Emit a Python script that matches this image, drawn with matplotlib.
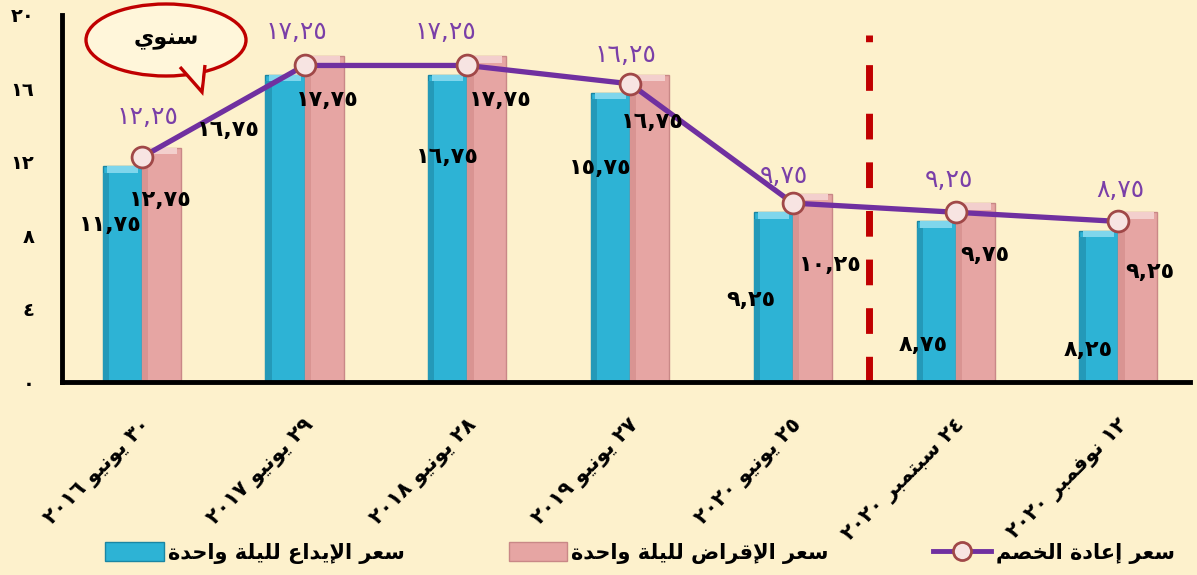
import re

import matplotlib
matplotlib.use('Agg')
import matplotlib.pyplot as plt
from matplotlib.lines import Line2D
from matplotlib.patches import Ellipse, Patch, Polygon

# ---- data -----------------------------------------------------------------
dates = ['٣٠ يونيو ٢٠١٦', '٢٩ يونيو ٢٠١٧', '٢٨ يونيو ٢٠١٨', '٢٧ يونيو ٢٠١٩',
         '٢٥ يونيو ٢٠٢٠', '٢٤ سبتمبر ٢٠٢٠', '١٢ نوفمبر ٢٠٢٠']
deposit = [11.75, 16.75, 16.75, 15.75, 9.25, 8.75, 8.25]
lending = [12.75, 17.75, 17.75, 16.75, 10.25, 9.75, 9.25]
discount = [12.25, 17.25, 17.25, 16.25, 9.75, 9.25, 8.75]
y_ticks = [0, 4, 8, 12, 16, 20]
lbl_deposit = 'سعر الإيداع لليلة واحدة'
lbl_lending = 'سعر الإقراض لليلة واحدة'
lbl_discount = 'سعر إعادة الخصم'
bubble_text = 'سنوي'

# label offsets in pixels (dx, dy) relative to the mark they describe
OFF_DISC = [(6, 40), (-8, 33), (-22, 33), (-5, 29), (-9, 27), (-7, 32), (2, 31)]
OFF_LEND = [(-1, -52), (3, -44), (13, -44), (3, -47), (18, -71), (10, -52), (12, -60)]
OFF_DEP = [(-12, -59), (-57, -55), (0, -82), (-10, -75), (-22, -88), (-13, -124), (-11, -119)]

BG = '#FDF1CC'
BLUE = '#2DB3D5'
PINK = '#E6A5A3'
PURPLE = '#7030A0'
DARKRED = '#C00000'

# ---- minimal arabic shaping (matplotlib does no shaping / bidi) ------------
FORMS = {
    'ا': ('\uFE8D', '\uFE8E', None, None),
    'إ': ('\uFE87', '\uFE88', None, None),
    'ب': ('\uFE8F', '\uFE90', '\uFE91', '\uFE92'),
    'ة': ('\uFE93', '\uFE94', None, None),
    'ت': ('\uFE95', '\uFE96', '\uFE97', '\uFE98'),
    'ح': ('\uFEA1', '\uFEA2', '\uFEA3', '\uFEA4'),
    'خ': ('\uFEA5', '\uFEA6', '\uFEA7', '\uFEA8'),
    'د': ('\uFEA9', '\uFEAA', None, None),
    'ر': ('\uFEAD', '\uFEAE', None, None),
    'س': ('\uFEB1', '\uFEB2', '\uFEB3', '\uFEB4'),
    'ص': ('\uFEB9', '\uFEBA', '\uFEBB', '\uFEBC'),
    'ض': ('\uFEBD', '\uFEBE', '\uFEBF', '\uFEC0'),
    'ع': ('\uFEC9', '\uFECA', '\uFECB', '\uFECC'),
    'ف': ('\uFED1', '\uFED2', '\uFED3', '\uFED4'),
    'ق': ('\uFED5', '\uFED6', '\uFED7', '\uFED8'),
    'ل': ('\uFEDD', '\uFEDE', '\uFEDF', '\uFEE0'),
    'م': ('\uFEE1', '\uFEE2', '\uFEE3', '\uFEE4'),
    'ن': ('\uFEE5', '\uFEE6', '\uFEE7', '\uFEE8'),
    'و': ('\uFEED', '\uFEEE', None, None),
    'ي': ('\uFEF1', '\uFEF2', '\uFEF3', '\uFEF4'),
}
LAM_ALEF = {'ا': ('\uFEFB', '\uFEFC'), 'إ': ('\uFEF9', '\uFEFA')}
DIGITS = re.compile(r'^[\u0660-\u0669,0-9]+$')


def _joins_next(c):
    return c in FORMS and FORMS[c][2] is not None


def shape(text):
    out, i, n = [], 0, len(text)
    while i < n:
        c = text[i]
        if c not in FORMS:
            out.append(c); i += 1
            continue
        prev_join = i > 0 and _joins_next(text[i - 1])
        if c == 'ل' and i + 1 < n and text[i + 1] in LAM_ALEF:
            iso, fin = LAM_ALEF[text[i + 1]]
            out.append(fin if prev_join else iso); i += 2
            continue
        iso, fin, ini, med = FORMS[c]
        can_next = ini is not None and i + 1 < n and text[i + 1] in FORMS
        if prev_join and can_next: out.append(med)
        elif prev_join: out.append(fin)
        elif can_next: out.append(ini)
        else: out.append(iso)
        i += 1
    return ''.join(out)


def ar(text):
    runs = re.findall(r'[\u0660-\u0669,0-9]+|[^\u0660-\u0669,0-9]+', shape(text))
    return ''.join(r if DIGITS.match(r) else r[::-1] for r in reversed(runs))


def ar_num(v, dec=True):
    s = f'{v:.2f}'.replace('.', ',') if dec else f'{v:g}'
    return s.translate(str.maketrans('0123456789', '٠١٢٣٤٥٦٧٨٩'))


# ---- figure ----------------------------------------------------------------
plt.rcParams['font.family'] = ['DejaVu Sans']
plt.rcParams['font.weight'] = 'bold'

W, H = 1197, 575
fig = plt.figure(figsize=(W / 100, H / 100), dpi=100, facecolor=BG)
ax = fig.add_axes([62 / W, 1 - 382 / H, (1190 - 62) / W, (382 - 15) / H])
ax.set_facecolor(BG)

x = list(range(len(dates)))
bw = 0.24
xb = [i - bw / 2 for i in x]
xp = [i + bw / 2 for i in x]
ax.bar(xb, deposit, width=bw, color=BLUE, edgecolor='#1B86A3', linewidth=1, zorder=2)
ax.bar(xp, lending, width=bw, color=PINK, edgecolor='#C98887', linewidth=1, zorder=2)
# light bevel on the bar tops, darker shade on the left side
ax.bar(xb, [0.35] * len(x), bottom=[d - 0.35 for d in deposit], width=bw * 0.8,
       color='#7FD6EC', linewidth=0, zorder=3)
ax.bar(xp, [0.35] * len(x), bottom=[v - 0.35 for v in lending], width=bw * 0.8,
       color='#F3CFCD', linewidth=0, zorder=3)
ax.bar([v - bw * 0.42 for v in xb], [d - 0.35 for d in deposit], width=bw * 0.16,
       color='#2499B8', linewidth=0, zorder=3)
ax.bar([v - bw * 0.42 for v in xp], [d - 0.35 for d in lending], width=bw * 0.16,
       color='#D99492', linewidth=0, zorder=3)

ax.plot(x, discount, color=PURPLE, lw=3.8, zorder=4, marker='o', ms=15,
        mfc='#F7E4E2', mec='#A04848', mew=2)

ax.axvline(4.47, ymin=0, ymax=0.945, color=DARKRED, lw=5,
           dashes=(3.7, 3.3), zorder=5)

for i in x:
    ax.annotate(ar_num(discount[i]), (x[i], discount[i]), xytext=OFF_DISC[i],
                textcoords='offset pixels', ha='center', va='center',
                color='#7A3FA8', fontsize=18, fontweight='normal', zorder=6)
    ax.annotate(ar_num(lending[i]), (xp[i], lending[i]), xytext=OFF_LEND[i],
                textcoords='offset pixels', ha='center', va='center',
                color='black', fontsize=16, zorder=6)
    ax.annotate(ar_num(deposit[i]), (xb[i], deposit[i]), xytext=OFF_DEP[i],
                textcoords='offset pixels', ha='center', va='center',
                color='black', fontsize=16, zorder=6)

ax.set_xlim(-0.49, 6.44)
ax.set_ylim(0, 20)
ax.set_yticks(y_ticks)
ax.set_yticklabels([ar_num(t, dec=False) for t in y_ticks], fontsize=14)
ax.tick_params(axis='y', length=0, pad=20)
ax.set_xticks(x)
ax.set_xticklabels([])
ax.tick_params(axis='x', length=0)
for s in ('top', 'right'):
    ax.spines[s].set_visible(False)
for s in ('left', 'bottom'):
    ax.spines[s].set_linewidth(3.5)
    ax.spines[s].set_zorder(7)

for i, d in enumerate(dates):
    ax.annotate(ar(d), (x[i], 0), xytext=(6, -40), textcoords='offset pixels',
                ha='right', va='center', rotation=45, rotation_mode='anchor',
                fontsize=15, annotation_clip=False)

# speech bubble
def fpx(px, py):
    return (px / W, 1 - py / H)

ell = Ellipse(fpx(166, 40), 160 / W, 72 / H, transform=fig.transFigure,
              facecolor='#FFF6DA', edgecolor=DARKRED, lw=2.4, zorder=10)
fig.patches.append(ell)
tail = [fpx(180, 67), fpx(202, 92), fpx(205, 65)]
fig.patches.append(Polygon(tail, closed=False, transform=fig.transFigure,
                           facecolor='#FFF6DA', edgecolor=DARKRED, lw=2.4, zorder=11))
fig.patches.append(Polygon([fpx(183, 64), fpx(201, 86), fpx(203, 62)],
                           transform=fig.transFigure, facecolor='#FFF6DA',
                           edgecolor='none', zorder=12))
fig.text(*fpx(166, 40), ar(bubble_text), ha='center', va='center',
         fontsize=16, zorder=13)

handles = [Patch(facecolor=BLUE, edgecolor='#1B86A3'),
           Patch(facecolor=PINK, edgecolor='#C98887'),
           Line2D([], [], color=PURPLE, lw=3.5, marker='o', ms=13,
                  mfc='#F7E4E2', mec='#A04848', mew=2)]
fig.legend(handles, [ar(lbl_deposit), ar(lbl_lending), ar(lbl_discount)],
           loc='center', bbox_to_anchor=fpx(640, 553), ncol=3, frameon=False,
           fontsize=15, handlelength=2.8, handleheight=1.0, handletextpad=0.2,
           columnspacing=5.0)

fig.savefig('out.png', dpi=100, facecolor=BG)
